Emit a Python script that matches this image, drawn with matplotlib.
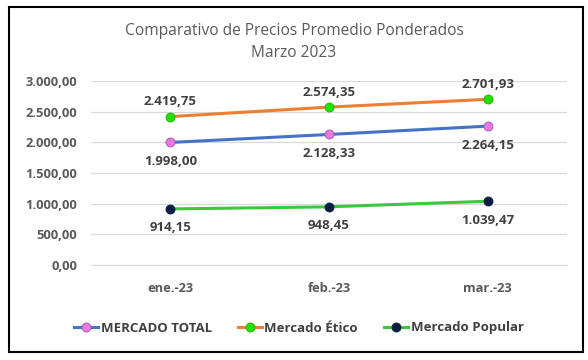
import matplotlib
matplotlib.use("Agg")
import matplotlib.pyplot as plt
from matplotlib.patches import Rectangle
from matplotlib.ticker import FuncFormatter

categories = ["ene.-23", "feb.-23", "mar.-23"]
total = [1998.00, 2128.33, 2264.15]
etico = [2419.75, 2574.35, 2701.93]
popular = [914.15, 948.45, 1039.47]
series_names = ["MERCADO TOTAL", "Mercado Ético", "Mercado Popular"]
yticks = [0, 500, 1000, 1500, 2000, 2500, 3000]

def fmt(v):
    s = f"{v:,.2f}"
    return s.replace(",", "X").replace(".", ",").replace("X", ".")

plt.rcParams['font.family'] = ['Open Sans', 'DejaVu Sans']

fig = plt.figure(figsize=(5.88, 3.6), dpi=100)
ax = fig.add_axes([91/588, 1-265/360, 476/588, (265-81)/360])

x = list(range(len(categories)))
lw = 2.2
ms = 6.5
l1, = ax.plot(x, total, color="#4472C4", lw=lw, marker="o", ms=ms,
              mfc="#E879E0", mec="#9E5AA8", mew=0.6, label=series_names[0], zorder=3)
l2, = ax.plot(x, etico, color="#ED7D31", lw=lw, marker="o", ms=ms,
              mfc="#22E000", mec="#22B000", mew=0.6, label=series_names[1], zorder=3)
l3, = ax.plot(x, popular, color="#3CC83C", lw=lw, marker="o", ms=ms,
              mfc="#0A1E45", mec="#0A1E45", mew=0.6, label=series_names[2], zorder=3)

lab_kw = dict(ha="center", fontsize=9.5, fontweight="bold", color="#404040")
for xi, v in zip(x, etico):
    ax.annotate(fmt(v), (xi, v), xytext=(0, 6), textcoords="offset points", va="bottom", **lab_kw)
for xi, v in zip(x, total):
    ax.annotate(fmt(v), (xi, v), xytext=(0, -9), textcoords="offset points", va="top", **lab_kw)
for xi, v in zip(x, popular):
    ax.annotate(fmt(v), (xi, v), xytext=(0, -9), textcoords="offset points", va="top", **lab_kw)

ax.set_xlim(-0.5, 2.5)
ax.set_ylim(0, 3000)
ax.set_yticks(yticks)
ax.yaxis.set_major_formatter(FuncFormatter(lambda v, p: fmt(v)))
ax.set_xticks(x)
ax.set_xticklabels(categories)
ax.grid(axis="y", color="#D9D9D9", lw=0.9)
ax.set_axisbelow(True)
for s in ["top", "right", "left"]:
    ax.spines[s].set_visible(False)
ax.spines["bottom"].set_color("#D9D9D9")
ax.tick_params(axis="both", length=0, labelsize=9.3, colors="#595959")
ax.tick_params(axis="y", pad=10)
ax.tick_params(axis="x", pad=12)
for t in ax.get_yticklabels() + ax.get_xticklabels():
    t.set_fontweight("bold")

fig.text(0.5, 1-31/360, "Comparativo de Precios Promedio Ponderados", ha="center", va="center",
         fontsize=11.2, color="#595959")
fig.text(0.5, 1-53/360, "Marzo 2023", ha="center", va="center", fontsize=11.2, color="#595959")

leg = fig.legend(handles=[l1, l2, l3], loc="center", bbox_to_anchor=(299/588, 1-328/360),
                 ncol=3, frameon=False, fontsize=9.5, handlelength=1.8, columnspacing=2.0,
                 handletextpad=0.2)
for t in leg.get_texts():
    t.set_color("#404040")
    t.set_fontweight("bold")

fig.patches.append(Rectangle((9/588, 1-352/360), (583-9)/588, (352-7)/360,
                             transform=fig.transFigure, fill=False, ec="black", lw=1.5))

fig.savefig("out.png", dpi=100)
